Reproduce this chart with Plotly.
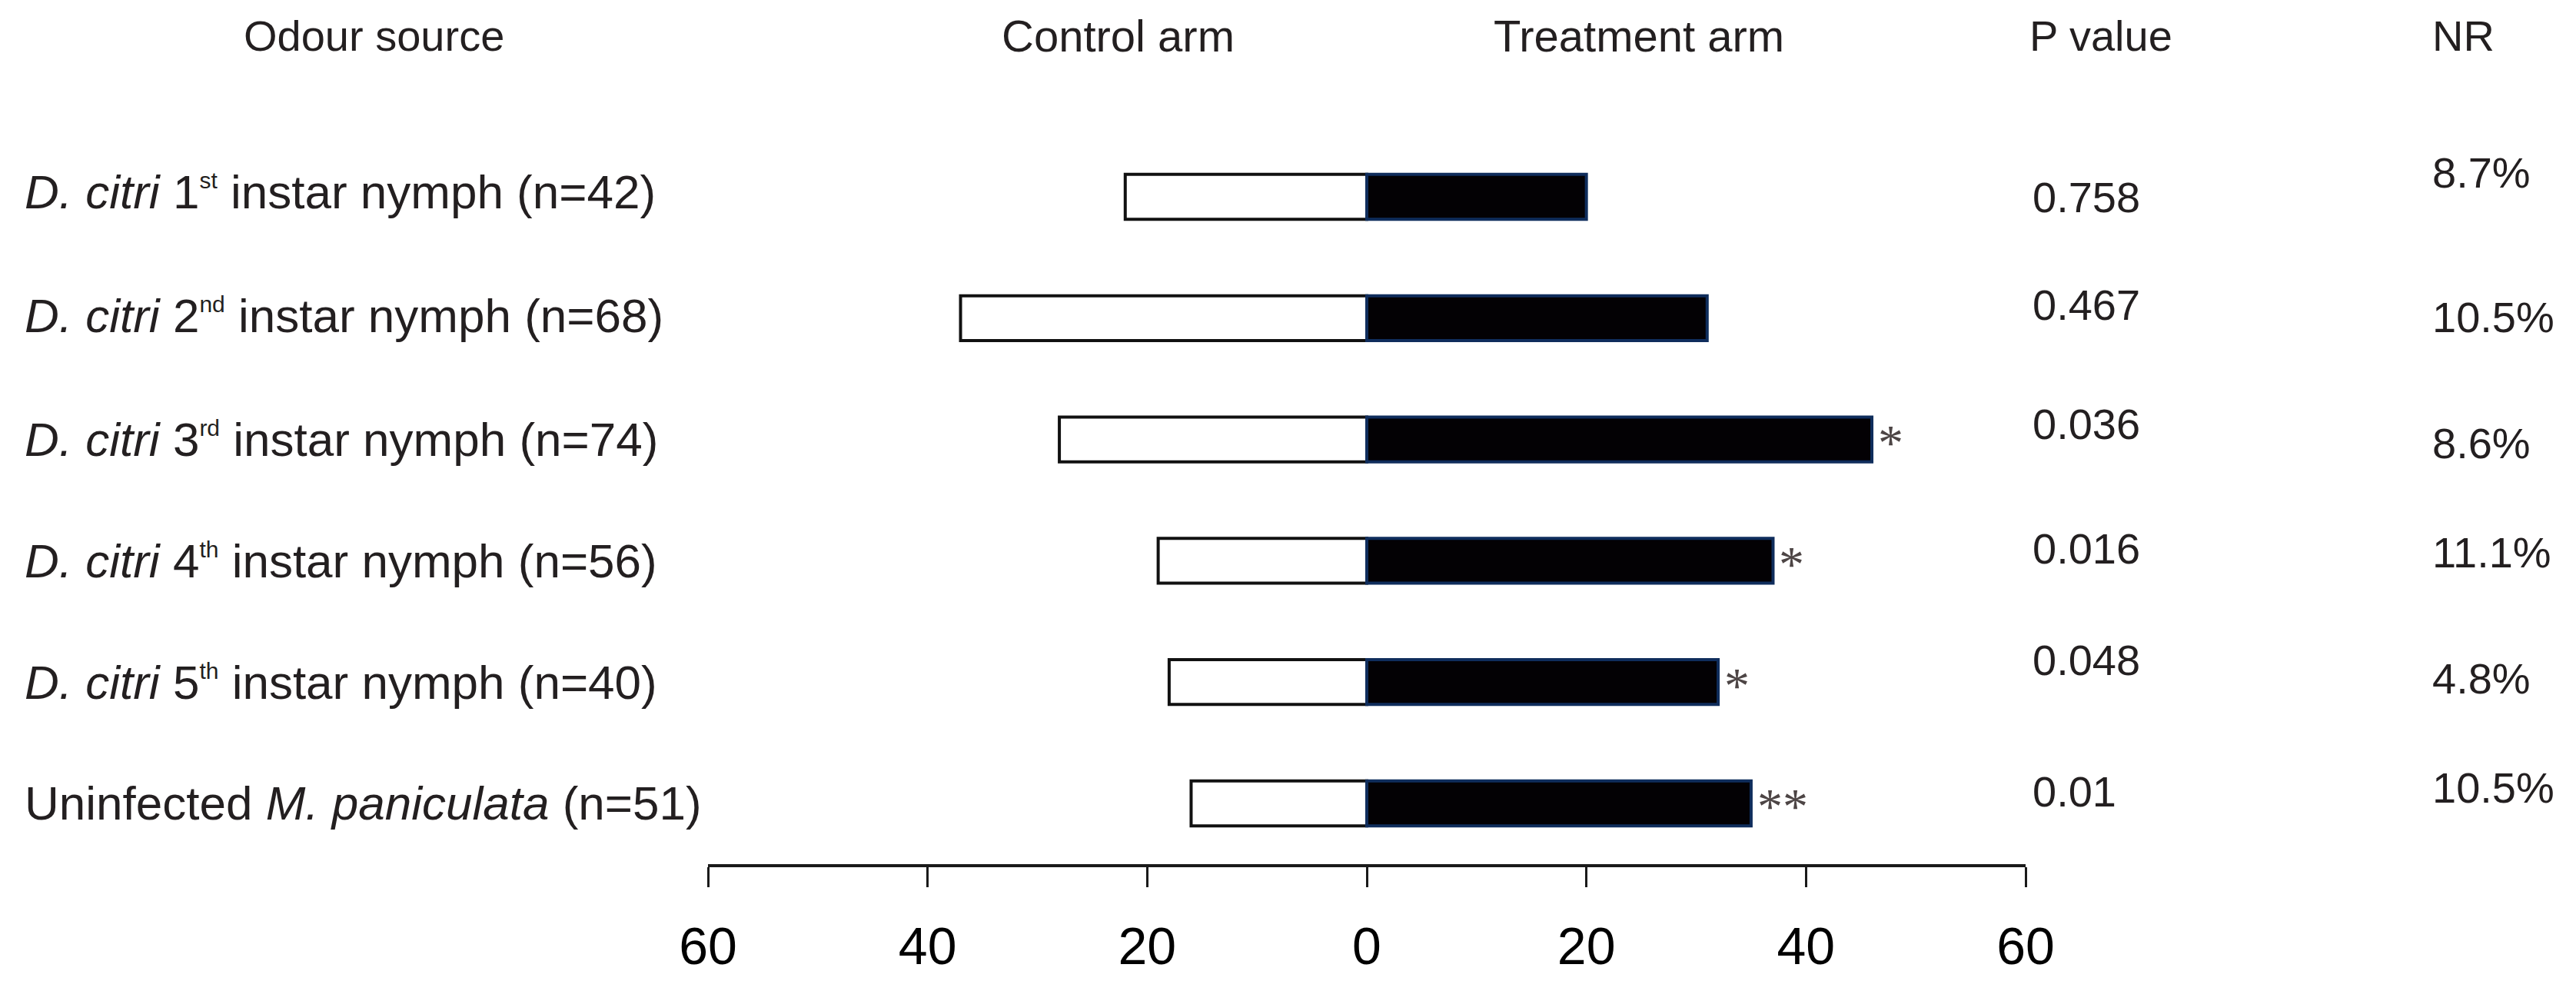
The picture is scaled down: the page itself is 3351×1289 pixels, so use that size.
import plotly.graph_objects as go

# ---- data ----
def sup(s):
    return "<sup><span style='font-size:30px'>" + s + "</span></sup>"

labels = [
    "<i>D. citri</i> 1" + sup("st") + " instar nymph (n=42)",
    "<i>D. citri</i> 2" + sup("nd") + " instar nymph (n=68)",
    "<i>D. citri</i> 3" + sup("rd") + " instar nymph (n=74)",
    "<i>D. citri</i> 4" + sup("th") + " instar nymph (n=56)",
    "<i>D. citri</i> 5" + sup("th") + " instar nymph (n=40)",
    "Uninfected <i>M. paniculata</i> (n=51)",
]
control = [22, 37, 28, 19, 18, 16]
treatment = [20, 31, 46, 37, 32, 35]
p_values = ["0.758", "0.467", "0.036", "0.016", "0.048", "0.01"]
nr = ["8.7%", "10.5%", "8.6%", "11.1%", "4.8%", "10.5%"]
signif = ["", "", "*", "*", "*", "**"]
tick_vals = [-60, -40, -20, 0, 20, 40, 60]
tick_text = ["60", "40", "20", "0", "20", "40", "60"]

# small vertical layout offsets (row units) of the text columns
p_dy = [0.0, -0.11, -0.13, -0.10, -0.18, -0.10]
nr_dy = [-0.20, -0.01, 0.03, -0.07, -0.03, -0.13]
lab_dy = [-0.04, -0.02, 0.0, 0.0, 0.0, 0.0]

# page has an 8px body margin, so the figure is 8px smaller than the window
W, H = 3343, 1281
L, R, T, B = 913, 716, 0, 165
rows = list(range(len(labels)))
TXT = "#231f20"
FONT = "Liberation Sans, Arial, sans-serif"

fig = go.Figure()
fig.add_trace(go.Bar(
    y=rows, x=[-c for c in control], orientation="h", width=0.37,
    marker=dict(color="white", line=dict(color="#111111", width=4)),
    showlegend=False, hoverinfo="skip",
))
fig.add_trace(go.Bar(
    y=rows, x=treatment, orientation="h", width=0.37,
    marker=dict(color="#030104", line=dict(color="#0f2d5c", width=4)),
    showlegend=False, hoverinfo="skip",
))

pw = W - L - R
def px_to_paper(px):
    return (px - L) / pw

ann = []
for i, lab in enumerate(labels):
    ann.append(dict(x=px_to_paper(22), xref="paper", y=i + lab_dy[i], yref="y", text=lab,
                    xanchor="left", yanchor="middle", showarrow=False,
                    font=dict(family=FONT, size=62, color=TXT)))
    ann.append(dict(x=px_to_paper(2634), xref="paper", y=i + p_dy[i], yref="y",
                    text=p_values[i], xanchor="left", yanchor="middle", showarrow=False,
                    font=dict(family=FONT, size=56, color=TXT)))
    ann.append(dict(x=px_to_paper(3154), xref="paper", y=i + nr_dy[i], yref="y",
                    text=nr[i], xanchor="left", yanchor="middle", showarrow=False,
                    font=dict(family=FONT, size=56, color=TXT)))
    if signif[i]:
        ann.append(dict(x=treatment[i], xref="x", y=i, yref="y", text=signif[i],
                        xanchor="left", yanchor="middle", showarrow=False,
                        xshift=6, yshift=-4,
                        font=dict(family="Liberation Serif, serif", size=66, color="#4d4545")))

headers = [("Odour source", 478, 56, "center"),
           ("Control arm", 1446, 58, "center"),
           ("Treatment arm", 2124, 58, "center"),
           ("P value", 2630, 56, "left"),
           ("NR", 3154, 56, "left")]
for txt, px, sz, anc in headers:
    ann.append(dict(x=px_to_paper(px), xref="paper", y=-1.33, yref="y", text=txt,
                    xanchor=anc, yanchor="middle", showarrow=False,
                    font=dict(family=FONT, size=sz, color=TXT)))

fig.update_layout(
    width=W, height=H,
    margin=dict(l=L, r=R, t=T, b=B, pad=0),
    paper_bgcolor="white", plot_bgcolor="white",
    barmode="overlay",
    annotations=ann,
    xaxis=dict(range=[-60, 60], tickvals=tick_vals, ticktext=tick_text,
               showline=True, linecolor="#1a1a1a", linewidth=4,
               ticks="outside", ticklen=26, tickwidth=3, tickcolor="#1a1a1a",
               showgrid=False, zeroline=False, ticklabelstandoff=18,
               tickfont=dict(family=FONT, size=68, color="#000000")),
    yaxis=dict(range=[5.501, -1.572], showticklabels=False, showgrid=False,
               zeroline=False, showline=False, ticks=""),
)

fig.write_html("out.html")
